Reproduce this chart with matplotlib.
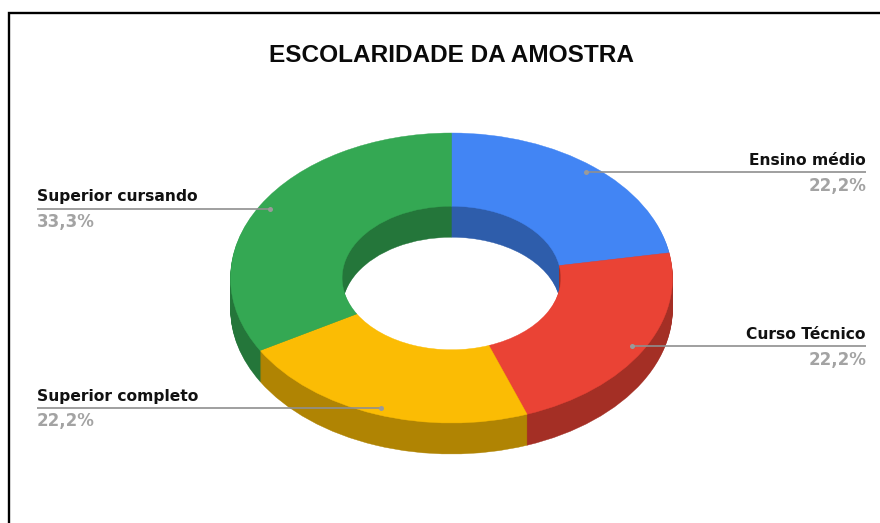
import matplotlib
matplotlib.use("Agg")
import matplotlib.pyplot as plt

W, H = 880, 523

title = "ESCOLARIDADE DA AMOSTRA"
categories = ["Ensino médio", "Curso Técnico", "Superior completo", "Superior cursando"]
values = [22.2, 22.2, 22.2, 33.3]
value_labels = ["22,2%", "22,2%", "22,2%", "33,3%"]
top_colors = ["#4285f4", "#ea4335", "#fbbc04", "#34a853"]
side_colors = ["#2e5dab", "#a42f25", "#b08403", "#24763a"]

# Ring geometry, in pixels of the saved figure
cx, cy = 451.5, 278
rx, ry = 221, 145
hole_ratio = 0.495
depth_px = 31

fig = plt.figure(figsize=(W / 100, H / 100), dpi=100, facecolor="white")

# Overlay in figure pixels for the frame, leader lines and labels
ax = fig.add_axes([0, 0, 1, 1], zorder=3)
ax.set_xlim(0, W)
ax.set_ylim(H, 0)
ax.axis("off")
ax.patch.set_alpha(0)

# Ring axes: a unit pie squashed into an ellipse gives the tilted look
ring = fig.add_axes([(cx - rx) / W, 1 - (cy + ry) / H, 2 * rx / W, 2 * ry / H], zorder=1)


def draw_ring(center_y, colors):
    wedges, _ = ring.pie(values, colors=colors, startangle=90, counterclock=False, radius=1,
                         center=(0, center_y), frame=False,
                         wedgeprops=dict(width=1 - hole_ratio, linewidth=0.3))
    # Outline each slice in its own fill so no seam shows between neighbours
    for wedge, color in zip(wedges, colors):
        wedge.set_edgecolor(color)


# Extrude from the lowest layer upward, then cover with the top face
for d in range(depth_px, 0, -1):
    draw_ring(-d / ry, side_colors)
draw_ring(0, top_colors)
ring.set_xlim(-1, 1)
ring.set_ylim(-1, 1)
ring.set_aspect("auto")
ring.axis("off")
for p in ring.patches:
    p.set_clip_on(False)

# Frame lines along the top and left only
ax.plot([8.5, 8.5, W], [H, 12.5, 12.5], color="black", lw=1.7, solid_joinstyle="miter", clip_on=False)

ax.text(451.5, 62, title, ha="center", va="baseline", fontsize=17.6,
        fontweight="bold", family="Liberation Sans", color="#0a0a0a")

# x of the text edge, x of the anchor dot, y of the leader line, alignment
leaders = [
    (866, 586, 172, "right"),
    (866, 632, 346, "right"),
    (37, 381, 407.5, "left"),
    (37, 270, 208.5, "left"),
]
for name, pct, (tx, dot_x, y, align) in zip(categories, value_labels, leaders):
    ax.plot([tx, dot_x], [y, y], color="#8f8f8f", lw=1.2, solid_capstyle="butt")
    ax.plot([dot_x], [y], "o", color="#9a9a9a", ms=3.6, mew=0)
    ax.text(tx, y - 7, name, ha=align, va="baseline", fontsize=11.2,
            fontweight="bold", family="DejaVu Sans", color="#111111")
    ax.text(tx, y + 18.5, pct, ha=align, va="baseline", fontsize=12,
            fontweight="bold", family="DejaVu Sans", color="#a3a3a3")

fig.savefig("out.png", dpi=100, facecolor="white")
